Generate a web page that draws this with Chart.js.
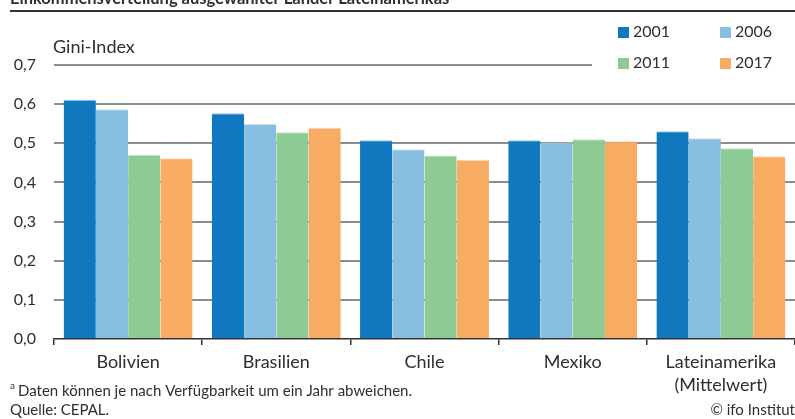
<!DOCTYPE html>
<html>
<head>
<meta charset="utf-8">
<script src="https://cdn.jsdelivr.net/npm/chart.js@4.4.0/dist/chart.umd.min.js"></script>
<style>
  html, body { margin: 0; padding: 0; background: #fff; }
  #wrap { width: 795px; height: 419px; position: relative; }
</style>
</head>
<body>
<div id="wrap"><canvas id="myChart"></canvas></div>
<script>
const title = "Einkommensverteilung ausgewählter Länder Lateinamerikas";
const axisTitle = "Gini-Index";
const footnote = "Daten können je nach Verfügbarkeit um ein Jahr abweichen.";
const source = "Quelle: CEPAL.";
const credit = "© ifo Institut";

const categories = ["Bolivien", "Brasilien", "Chile", "Mexiko", ["Lateinamerika", "(Mittelwert)"]];
const years = ["2001", "2006", "2011", "2017"];
const colors = ["#1078be", "#88bfe0", "#8ecb94", "#f8ab63"];
const topColors = ["#9cc6e6", "#c4e0f1", "#c3e5c6", "#fcd4ae"];

const values2001 = [0.611, 0.577, 0.508, 0.508, 0.531];
const values2006 = [0.587, 0.549, 0.485, 0.502, 0.513];
const values2011 = [0.471, 0.528, 0.469, 0.510, 0.487];
const values2017 = [0.462, 0.540, 0.457, 0.505, 0.467];
const seriesValues = [values2001, values2006, values2011, values2017];

const yTicks = [0, 0.1, 0.2, 0.3, 0.4, 0.5, 0.6, 0.7];

const textColor = "#2e2e2e";
const fontName = "Lato, 'Noto Sans', sans-serif";

const ctx = document.getElementById("myChart");

// Titel, Legende, Fußnote und die verkürzte 0,7-Linie selbst zeichnen
const extras = {
  id: "extras",
  beforeDatasetsDraw(chart) {
    const c = chart.ctx;
    const y = chart.scales.y;
    const area = chart.chartArea;
    c.save();
    c.strokeStyle = "#8c8c8c";
    c.lineWidth = 2;
    const y7 = Math.round(y.getPixelForValue(0.7));
    c.beginPath();
    c.moveTo(area.left, y7);
    c.lineTo(592, y7);
    c.stroke();
    c.restore();
  },
  afterDraw(chart) {
    const c = chart.ctx;
    c.save();
    c.fillStyle = textColor;
    c.textBaseline = "alphabetic";
    c.textAlign = "left";
    c.font = "bold 16.5px " + fontName;
    c.fillText(title, 10, 4);

    c.strokeStyle = "#333333";
    c.lineWidth = 2;
    c.beginPath();
    c.moveTo(10, 11);
    c.lineTo(795, 11);
    c.stroke();

    c.textBaseline = "middle";
    c.font = "18px " + fontName;
    c.fillText(axisTitle, 53, 47);

    // Legende in zwei Spalten
    const legX = [618, 720];
    const legY = [32, 63];
    years.forEach((yr, i) => {
      const lx = legX[i % 2];
      const ly = legY[Math.floor(i / 2)];
      c.fillStyle = colors[i];
      c.fillRect(lx, ly - 5, 11, 11);
      c.fillStyle = textColor;
      c.font = "16px " + fontName;
      c.fillText(yr, lx + 15, ly);
    });

    c.font = "10px " + fontName;
    c.fillText("a", 10, 386);
    c.font = "15px " + fontName;
    c.fillText(footnote, 18, 391);
    c.fillText(source, 10, 410);
    c.textAlign = "right";
    c.fillText(credit, 795, 410);
    c.restore();
  },
};

new Chart(ctx, {
  type: "bar",
  data: {
    labels: categories,
    datasets: years.map((yr, i) => ({
      label: yr,
      data: seriesValues[i],
      backgroundColor: colors[i],
      borderColor: topColors[i],
      borderWidth: { top: 1, left: 0, right: 0, bottom: 0 },
      borderSkipped: "bottom",
      categoryPercentage: 0.87,
      barPercentage: 1.0,
    })),
  },
  options: {
    responsive: true,
    maintainAspectRatio: false,
    animation: false,
    layout: { padding: { top: 65, right: 0, bottom: 0, left: 0 } },
    plugins: {
      legend: { display: false },
      tooltip: { enabled: false },
    },
    scales: {
      x: {
        offset: true,
        grid: {
          offset: true,
          drawOnChartArea: false,
          drawTicks: true,
          tickLength: 6,
          color: "#333333",
          lineWidth: 1.5,
        },
        border: { color: "#333333", width: 1.5 },
        ticks: {
          color: textColor,
          font: { family: fontName, size: 18, lineHeight: 1.3 },
          padding: 5,
          maxRotation: 0,
          autoSkip: false,
        },
        afterFit(scale) {
          scale.height = 80;
        },
      },
      y: {
        min: 0,
        max: 0.7,
        afterBuildTicks(scale) {
          scale.ticks = yTicks.map((v) => ({ value: v }));
        },
        grid: {
          drawTicks: false,
          color: (c) => (c.tick && c.tick.value >= 0.69) || (c.tick && c.tick.value === 0) ? "rgba(0,0,0,0)" : "#8c8c8c",
          lineWidth: 2,
        },
        border: { display: false },
        ticks: {
          color: textColor,
          font: { family: fontName, size: 16 },
          padding: 18,
          callback: (v) => v.toFixed(1).replace(".", ","),
        },
        afterFit(scale) {
          scale.width = 54;
        },
      },
    },
  },
  plugins: [extras],
});
</script>
</body>
</html>
